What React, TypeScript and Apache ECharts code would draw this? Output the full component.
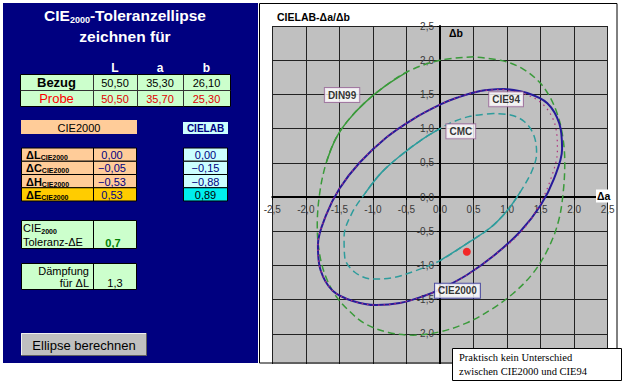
import React, { useEffect, useRef } from 'react';
import * as echarts from 'echarts';

// ---------- data ----------
const labHeaders = ['L', 'a', 'b'];
const bezugValues = ['50,50', '35,30', '26,10'];
const probeValues = ['50,50', '35,70', '25,30'];
const deltaNames = ['ΔL', 'ΔC', 'ΔH', 'ΔE'];
const cie2000Deltas = ['0,00', '−0,05', '−0,53', '0,53'];
const cielabDeltas = ['0,00', '−0,15', '−0,88', '0,89'];
const toleranceDE = '0,7';
const daempfungDL = '1,3';

const cie2000Curve: [number, number][] = [
  [0.95, 1.58], [0.6, 1.55], [0.25, 1.45], [0.0, 1.35], [-0.4, 1.14], [-0.8, 0.87], [-1.2, 0.5],
  [-1.5, 0.12], [-1.7, -0.27], [-1.82, -0.7], [-1.78, -1.07], [-1.6, -1.37], [-1.3, -1.52],
  [-0.95, -1.58], [-0.6, -1.55], [-0.25, -1.45], [0.0, -1.35], [0.4, -1.14], [0.8, -0.86],
  [1.2, -0.5], [1.5, -0.12], [1.7, 0.27], [1.82, 0.7], [1.78, 1.07], [1.6, 1.37], [1.3, 1.52],
  [0.95, 1.58],
];
const cie94Curve: [number, number][] = [
  [0.95, 1.57], [0.6, 1.55], [0.25, 1.45], [0.0, 1.35], [-0.4, 1.14], [-0.8, 0.87], [-1.2, 0.5],
  [-1.5, 0.12], [-1.7, -0.27], [-1.82, -0.7], [-1.78, -1.07], [-1.6, -1.37], [-1.3, -1.52],
  [-0.95, -1.58], [-0.6, -1.55], [-0.25, -1.45], [0.0, -1.35], [0.4, -1.14], [0.8, -0.86],
  [1.2, -0.52], [1.47, -0.14], [1.65, 0.26], [1.75, 0.68], [1.72, 1.04], [1.55, 1.34], [1.28, 1.5],
  [0.95, 1.57],
];
const din99Curve: [number, number][] = [
  [0.5, 2.05], [0.0, 2.0], [-0.47, 1.84], [-0.82, 1.62], [-1.12, 1.38], [-1.37, 1.12], [-1.55, 0.86],
  [-1.69, 0.52], [-1.79, 0.08], [-1.83, -0.42], [-1.8, -0.8], [-1.72, -1.12], [-1.57, -1.42],
  [-1.37, -1.65], [-1.12, -1.85], [-0.77, -1.98], [-0.4, -2.02], [0.0, -1.97], [0.4, -1.84],
  [0.77, -1.64], [1.09, -1.41], [1.39, -1.11], [1.62, -0.74], [1.77, -0.34], [1.84, 0.1], [1.86, 0.52],
  [1.83, 0.88], [1.76, 1.18], [1.64, 1.46], [1.48, 1.68], [1.24, 1.87], [0.94, 1.99], [0.5, 2.05],
];
const cmcCurve: [number, number][] = [
  [0.8, 1.22], [0.45, 1.18], [0.15, 1.08], [0.0, 1.0], [-0.27, 0.84], [-0.57, 0.62], [-0.87, 0.36],
  [-1.12, 0.05], [-1.32, -0.25], [-1.43, -0.58], [-1.42, -0.88], [-1.27, -1.1], [-1.0, -1.2],
  [-0.7, -1.18], [-0.37, -1.08], [0.0, -0.93], [0.4, -0.68], [0.75, -0.45], [1.0, -0.2], [1.2, 0.08],
  [1.37, 0.38], [1.44, 0.64], [1.4, 0.9], [1.26, 1.1], [1.05, 1.2], [0.8, 1.22],
];
const sampleDelta: [number, number] = [0.4, -0.8];
const curveLabels = [
  { name: 'DIN99', value: [-1.46, 1.49] },
  { name: 'CIE94', value: [0.985, 1.43] },
  { name: 'CMC', value: [0.31, 0.96] },
  { name: 'CIE2000', value: [0.26, -1.37] },
];

// ---------- helpers ----------
const SANS = 'Arial, "Liberation Sans", sans-serif';
const SERIF = '"Times New Roman", "Liberation Serif", serif';

function rect(x: number, y: number, w: number, h: number, fill: string, stroke?: string, z = 5) {
  return {
    type: 'rect', z, silent: true,
    shape: { x, y, width: w, height: h },
    style: { fill, stroke: stroke || null, lineWidth: stroke ? 1 : 0 },
  };
}
function line(x1: number, y1: number, x2: number, y2: number, stroke = '#000', z = 6, lw = 1) {
  return { type: 'line', z, silent: true, shape: { x1, y1, x2, y2 }, style: { stroke, lineWidth: lw } };
}
function txt(text: string, x: number, y: number, o: any = {}) {
  return {
    type: 'text', x, y, z: o.z || 8, silent: true,
    style: {
      text,
      fill: o.color || '#000',
      font: `${o.weight || 'normal'} ${o.size || 11}px ${o.family || SANS}`,
      align: o.align || 'center', textAlign: o.align || 'center',
      verticalAlign: 'middle', textVerticalAlign: 'middle',
      rich: o.rich,
      backgroundColor: o.bg,
      padding: o.padding,
    },
  };
}
const fmt = (v: number) => v.toFixed(1).replace('.', ',');

export default function App() {
  const ref = useRef<HTMLDivElement>(null);
  useEffect(() => {
    if (!ref.current) return;
    const chart = echarts.init(ref.current, undefined, { renderer: 'svg' });

    const g: any[] = [];
    // left blue panel
    g.push(rect(3, 3, 255, 360, '#000080', undefined, 1));
    g.push(txt('{a|CIE}{s|2000}{a|-Toleranzellipse}', 125, 15.5, {
      color: '#fff',
      rich: {
        a: { fontSize: 15.5, fontWeight: 'bold', fontFamily: SANS, color: '#fff', lineHeight: 18 },
        s: { fontSize: 9, fontWeight: 'bold', fontFamily: SANS, color: '#fff', lineHeight: 18, verticalAlign: 'bottom' },
      },
    }));
    g.push(txt('zeichnen für', 125, 36, { color: '#fff', weight: 'bold', size: 15.5 }));
    const colX = [115, 160, 206.5];
    labHeaders.forEach((h, i) => g.push(txt(h, colX[i], 67.5, { color: '#fff', weight: 'bold', size: 12 })));
    // Bezug / Probe table
    g.push(rect(20.5, 74.5, 210, 32, '#CCFFCC', '#000'));
    g.push(line(20.5, 90.5, 230.5, 90.5, '#333'));
    [93.5, 137.5, 183.5].forEach((x) => g.push(line(x, 74.5, x, 106.5, '#333')));
    g.push(txt('Bezug', 56.5, 82.5, { weight: 'bold', size: 13 }));
    g.push(txt('Probe', 56.5, 98.5, { size: 13, color: '#FF0000' }));
    bezugValues.forEach((v, i) => g.push(txt(v, colX[i], 82.5, { size: 11 })));
    probeValues.forEach((v, i) => g.push(txt(v, colX[i], 98.5, { size: 11, color: '#E00000' })));
    // headings
    g.push(rect(21, 120, 116, 14, '#FFCC99'));
    g.push(txt('CIE2000', 79, 127.5, { size: 11 }));
    g.push(rect(183, 122, 45, 12, '#CCFFFF'));
    g.push(txt('CIELAB', 205.5, 128.5, { size: 10, weight: 'bold', color: '#000080' }));
    // delta tables
    const rowH = 13.25;
    deltaNames.forEach((n, i) => {
      const y = 148 + i * rowH;
      const last = i === deltaNames.length - 1;
      g.push(rect(21.5, y, 115, rowH, last ? '#FFCC00' : '#FFCC99', '#000'));
      g.push(line(93.5, y, 93.5, y + rowH, '#000'));
      g.push(txt(`{d|${n}}{s|CIE2000}`, 26, y + rowH / 2 + 0.5, {
        align: 'left',
        rich: {
          d: { fontSize: 11, fontWeight: 'bold', fontFamily: SANS, color: '#000080', lineHeight: 12 },
          s: { fontSize: 7, fontWeight: 'bold', fontFamily: SANS, color: '#000080', lineHeight: 12, verticalAlign: 'bottom' },
        },
      }));
      g.push(txt(cie2000Deltas[i], 112, y + rowH / 2 + 0.5, { size: 11, color: '#000080' }));
      g.push(rect(183.5, y, 44, rowH, last ? '#00EEEE' : '#CCFFFF', '#000'));
      g.push(txt(cielabDeltas[i], 205.5, y + rowH / 2 + 0.5, { size: 11, color: last ? '#000' : '#000080' }));
    });
    // tolerance
    g.push(rect(21.5, 220.5, 115, 28, '#CCFFCC', '#000'));
    g.push(line(93.5, 220.5, 93.5, 248.5, '#000'));
    g.push(txt('{a|CIE}{s|2000}', 23, 228, {
      align: 'left',
      rich: {
        a: { fontSize: 11, fontFamily: SANS, color: '#000', lineHeight: 13 },
        s: { fontSize: 7, fontWeight: 'bold', fontFamily: SANS, color: '#000', lineHeight: 13, verticalAlign: 'bottom' },
      },
    }));
    g.push(txt('Toleranz-ΔE', 23, 242, { align: 'left', size: 11 }));
    g.push(txt(toleranceDE, 113, 243, { size: 11, weight: 'bold', color: '#008000' }));
    // Daempfung
    g.push(rect(21.5, 263.5, 115, 26, '#CCFFCC', '#000'));
    g.push(line(93.5, 263.5, 93.5, 289.5, '#000'));
    g.push(txt('Dämpfung', 89, 271, { align: 'right', size: 11 }));
    g.push(txt('für ΔL', 89, 283, { align: 'right', size: 11 }));
    g.push(txt(daempfungDL, 115, 283, { size: 11 }));
    // button
    g.push(rect(21, 333, 126, 23, '#C0C0C0'));
    g.push(line(21.5, 333.5, 146.5, 333.5, '#F0F0F0'));
    g.push(line(21.5, 333.5, 21.5, 355.5, '#F0F0F0'));
    g.push(line(21, 355.5, 147, 355.5, '#606060'));
    g.push(line(146.5, 333, 146.5, 356, '#606060'));
    g.push(txt('Ellipse berechnen', 84, 345, { size: 13 }));

    // chart frame and texts
    g.push(rect(259, 364, 366, 21, '#FFFFFF', undefined, 100));
    g.push(rect(259.5, 3.5, 357.5, 359.5, 'transparent', '#000', 101));
    g.push(txt('CIELAB-Δa/Δb', 277, 17, { align: 'left', weight: 'bold', size: 10.5, z: 20 }));
    g.push(txt('Δb', 449, 33, { align: 'left', weight: 'bold', size: 10.5, z: 20 }));
    g.push(txt('Δa', 596, 196, { align: 'left', weight: 'bold', size: 10.5, z: 20, bg: '#fff', padding: [1, 1] }));
    // note box
    g.push(rect(452.5, 348.5, 169, 32, '#FFFFFF', '#000', 102));
    g.push(txt('Praktisch kein Unterschied', 459, 357.5, { align: 'left', size: 10.5, family: SERIF, z: 103 }));
    g.push(txt('zwischen CIE2000 und CIE94', 459, 371, { align: 'left', size: 10.5, family: SERIF, z: 103 }));

    const axisCommon = {
      type: 'value',
      min: -2.5,
      max: 2.5,
      interval: 0.5,
      axisLine: { onZero: false, lineStyle: { color: '#000', width: 2 } },
      axisTick: { show: true, length: 3, lineStyle: { color: '#000', width: 1 } },
      splitLine: { show: true, lineStyle: { color: '#222', width: 1 } },
    };

    const lineSeries = (name: string, data: any, color: string, type: any, width: number, z: number) => ({
      type: 'line', name, data, smooth: 0.35, symbol: 'none', showSymbol: false, silent: true, z,
      lineStyle: { color, width, type },
    });

    chart.setOption({
      animation: false,
      grid: {
        left: 272.3, right: 17.3, top: 26, bottom: 17,
        show: true, backgroundColor: '#C0C0C0', borderWidth: 0,
      },
      xAxis: {
        ...axisCommon,
        position: 'bottom',
        offset: -171,
        axisLabel: { formatter: fmt, color: '#3a3a3a', fontSize: 10, fontFamily: SANS, margin: 7, showMinLabel: true, showMaxLabel: true },
      },
      yAxis: {
        ...axisCommon,
        position: 'left',
        offset: -167.7,
        axisLabel: {
          formatter: (v: number) => (v < -2.4 ? '' : fmt(v)),
          color: '#3a3a3a', fontSize: 10, fontFamily: SANS, margin: 6,
        },
      },
      graphic: { elements: g },
      series: [
        lineSeries('DIN99', din99Curve, '#3A9A3A', [7, 4], 1.5, 2),
        lineSeries('DIN99 dicht', din99Curve.slice(2, 8), '#3A9A3A', 'solid', 1.5, 2),
        lineSeries('CMC', cmcCurve, '#2E9C9C', [7, 4], 1.5, 3),
        lineSeries('CMC dicht A', cmcCurve.slice(3, 8), '#2E9C9C', 'solid', 1.5, 3),
        lineSeries('CMC dicht B', cmcCurve.slice(15, 20), '#2E9C9C', 'solid', 1.5, 3),
        lineSeries('CIE2000', cie2000Curve, '#261A9A', 'solid', 2, 4),
        lineSeries('CIE94', cie94Curve, '#B0307E', [1.5, 4], 1.2, 5),
        {
          type: 'scatter', name: 'Probe', data: [sampleDelta], symbolSize: 8, z: 6, silent: true,
          itemStyle: { color: '#FF0000' },
        },
        {
          type: 'scatter', name: 'Labels', symbolSize: 0, z: 7, silent: true,
          data: curveLabels.map((c) => ({
            name: c.name, value: c.value,
            label: {
              show: true, position: 'inside', formatter: '{b}',
              color: '#000', fontSize: 10, fontWeight: 'bold', fontFamily: SANS,
              backgroundColor: '#fff', borderColor: c.name === 'CIE2000' ? '#333399' : '#996699',
              borderWidth: 1, padding: [2, 3],
            },
          })),
        },
      ],
    });
    return () => chart.dispose();
  }, []);
  return <div ref={ref} style={{ position: 'absolute', left: 0, top: 0, width: 625, height: 385, background: '#fff' }} />;
}
